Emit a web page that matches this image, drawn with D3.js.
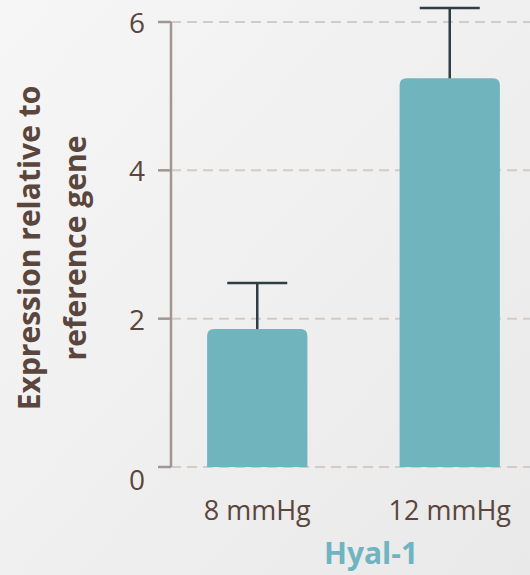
<!DOCTYPE html>
<html>
<head>
<meta charset="utf-8">
<script src="https://cdn.jsdelivr.net/npm/d3@7"></script>
<style>
  html, body { margin: 0; padding: 0; }
  body { width: 530px; height: 575px; overflow: hidden; }
  text { font-family: 'Open Sans', sans-serif; }
</style>
</head>
<body>
<svg id="chart" width="530" height="575"></svg>
<script>
const categories = ['8 mmHg', '12 mmHg']
const means = [1.86, 5.24]
const errors = [0.62, 0.95]
const yTicks = [0, 2, 4, 6]
const gene = 'Hyal-1'

const svg = d3.select('#chart')

// soft grey background
const grad = svg.append('defs').append('linearGradient')
    .attr('id', 'bg').attr('x1', 0).attr('y1', 0).attr('x2', 1).attr('y2', 1)
grad.append('stop').attr('offset', '0%').attr('stop-color', '#f6f6f6')
grad.append('stop').attr('offset', '100%').attr('stop-color', '#e9e9e9')
svg.append('rect').attr('width', 530).attr('height', 575).attr('fill', 'url(#bg)')

const x = d3.scaleBand().domain(categories).range([159, 548]).paddingInner(0.479).paddingOuter(0.25)
const y = d3.scaleLinear().domain([0, 6]).range([467, 22])

// grid
svg.append('g').selectAll('line').data(yTicks).join('line')
    .attr('x1', 171).attr('x2', 530)
    .attr('y1', d => y(d)).attr('y2', d => y(d))
    .attr('stroke', '#d3cbc7').attr('stroke-width', 2).attr('stroke-dasharray', '10,6')

// bars with rounded tops
const r = 7
svg.append('g').selectAll('path').data(means).join('path')
    .attr('d', (d, i) => {
        const x0 = x(categories[i]), w = x.bandwidth(), top = y(d), base = y(0)
        return `M${x0},${base} V${top + r} Q${x0},${top} ${x0 + r},${top} H${x0 + w - r} Q${x0 + w},${top} ${x0 + w},${top + r} V${base} Z`
    })
    .attr('fill', '#70b4be')

// error bars
const eb = svg.append('g').attr('stroke', '#2f3d47').attr('stroke-width', 2.5)
means.forEach((m, i) => {
    const cx = x(categories[i]) + x.bandwidth() / 2
    eb.append('line').attr('x1', cx).attr('x2', cx).attr('y1', y(m)).attr('y2', y(m + errors[i]))
    eb.append('line').attr('x1', cx - 30).attr('x2', cx + 30).attr('y1', y(m + errors[i])).attr('y2', y(m + errors[i]))
})

// y axis
const axis = svg.append('g').attr('stroke', '#a39591').attr('stroke-width', 2.5)
axis.append('line').attr('x1', 171).attr('x2', 171).attr('y1', y(6)).attr('y2', y(0))
axis.selectAll('.tick').data(yTicks).join('line')
    .attr('x1', 158).attr('x2', 171).attr('y1', d => y(d)).attr('y2', d => y(d))

svg.append('g').selectAll('text').data(yTicks).join('text')
    .attr('x', 145).attr('y', d => y(d) + (d === 0 ? 23 : 11))
    .attr('text-anchor', 'end').attr('font-size', 28).attr('fill', '#5a463c')
    .text(d => d)

// category labels
svg.append('g').selectAll('text').data(categories).join('text')
    .attr('x', d => x(d) + x.bandwidth() / 2).attr('y', 520)
    .attr('text-anchor', 'middle').attr('font-size', 27).attr('fill', '#5a463c')
    .text(d => d)

svg.append('text').attr('x', 371).attr('y', 564)
    .attr('text-anchor', 'middle').attr('font-size', 30).attr('font-weight', 'bold')
    .attr('fill', '#6fb4c0').text(gene)

// y title
const yt = svg.append('text').attr('transform', 'translate(0,248) rotate(-90)')
    .attr('text-anchor', 'middle').attr('font-size', 30).attr('font-weight', 'bold').attr('fill', '#5a463c')
yt.append('tspan').attr('x', 0).attr('y', 40).text('Expression relative to')
yt.append('tspan').attr('x', 0).attr('y', 86).text('reference gene')
</script>
</body>
</html>
